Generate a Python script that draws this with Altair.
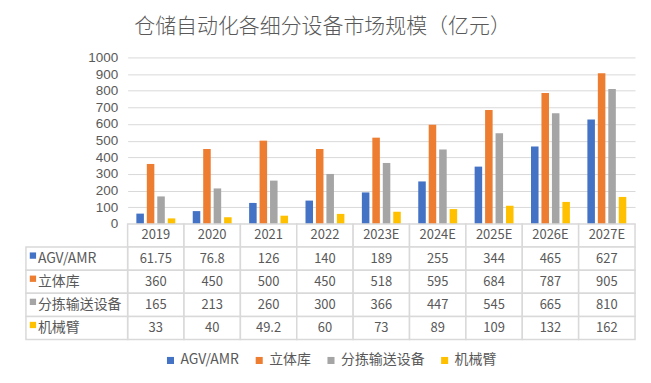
import altair as alt
import pandas as pd

years = ["2019", "2020", "2021", "2022", "2023E", "2024E", "2025E", "2026E", "2027E"]
series = ["AGV/AMR", "立体库", "分拣输送设备", "机械臂"]
agv = [61.75, 76.8, 126, 140, 189, 255, 344, 465, 627]
liti = [360, 450, 500, 450, 518, 595, 684, 787, 905]
fenjian = [165, 213, 260, 300, 366, 447, 545, 665, 810]
jixie = [33, 40, 49.2, 60, 73, 89, 109, 132, 162]
colors = ["#4472C4", "#ED7D31", "#A5A5A5", "#FFC000"]
title = "仓储自动化各细分设备市场规模（亿元）"

FONT = "Noto Sans CJK SC"
NUMFONT = "Liberation Sans"
TXT = "#595959"
GRID = "#D9D9D9"

values = [agv, liti, fenjian, jixie]
rows = []
for s, vals in zip(series, values):
    for y, v in zip(years, vals):
        rows.append({"year": y, "series": s, "value": v, "label": f"{v:g}", "row": s})
df = pd.DataFrame(rows)

hdr = pd.DataFrame({"year": years, "row": ["hdr"] * len(years), "label": years})
cells = pd.concat([hdr, df[["year", "row", "label"]]], ignore_index=True)
row_dom = ["hdr"] + series
labels_df = pd.DataFrame({"row": series, "series": series})

color_scale = alt.Scale(domain=series, range=colors)

bars = alt.Chart(df).mark_bar().encode(
    x=alt.X("year:N", sort=years, axis=None,
            scale=alt.Scale(paddingInner=0.31, paddingOuter=0.155)),
    xOffset=alt.XOffset("series:N", sort=series,
                        scale=alt.Scale(paddingInner=0.28, paddingOuter=0)),
    y=alt.Y("value:Q", scale=alt.Scale(domain=[0, 1000]),
            axis=alt.Axis(values=list(range(0, 1001, 100)), format="d", title=None, domain=False,
                          ticks=False, gridColor=GRID, labelFontSize=13.5, labelColor=TXT,
                          labelFont=NUMFONT, labelPadding=10)),
    color=alt.Color("series:N", scale=color_scale, sort=series,
                    legend=alt.Legend(orient="none", legendX=36, legendY=297,
                                      direction="horizontal", title=None,
                                      symbolType="square", symbolSize=50, labelFontSize=14,
                                      labelColor=TXT, labelFont=FONT, columnPadding=13,
                                      labelOffset=3)),
).properties(width=509, height=167, view=alt.ViewConfig(stroke=None))

xs = alt.X("year:N", sort=years, axis=None, scale=alt.Scale(paddingInner=0, paddingOuter=0))
ys = alt.Y("row:N", sort=row_dom, axis=None, scale=alt.Scale(domain=row_dom, paddingInner=0, paddingOuter=0))

cell_rects = alt.Chart(cells).mark_rect(fill="white", stroke=GRID, strokeWidth=1.5).encode(x=xs, y=ys)
cell_text = alt.Chart(cells).mark_text(font=FONT, fontSize=13, color=TXT).encode(x=xs, y=ys, text="label:N")
label_rects = alt.Chart(labels_df).mark_rect(fill="white", stroke=GRID, strokeWidth=1.5).encode(
    x=alt.value(-102), x2=alt.value(0), y=ys)
label_text = alt.Chart(labels_df).mark_text(font=FONT, fontSize=14, color=TXT, align="left").encode(
    x=alt.value(-90), y=ys, text="row:N")
label_sq = alt.Chart(labels_df).mark_point(shape="square", filled=True, size=40, opacity=1, yOffset=-3).encode(
    x=alt.value(-95), y=ys, color=alt.Color("series:N", scale=color_scale, sort=series, legend=None))

table = alt.layer(cell_rects, label_rects, cell_text, label_text, label_sq).properties(
    width=509, height=116, view=alt.ViewConfig(stroke=None))

chart = alt.vconcat(bars, table, spacing=0, bounds="flush").resolve_scale(
    x="independent", y="independent", color="shared"
).properties(
    title=alt.Title(title, fontSize=21, color=TXT, font=FONT, fontWeight=300,
                    anchor="middle", offset=13, dx=-8),
    padding={"left": 17, "top": 8, "right": 7, "bottom": 5},
)

chart.save("out.html", embed_options={"renderer": "svg", "actions": False})
